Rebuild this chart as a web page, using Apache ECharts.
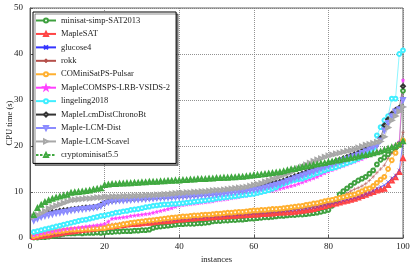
<!DOCTYPE html>
<html><head><meta charset="utf-8">
<script src="https://cdn.jsdelivr.net/npm/echarts@6/dist/echarts.min.js"></script>
<style>html,body{margin:0;padding:0;background:#fff}#c{width:416px;height:267px}</style>
</head><body><div id="c"></div>
<script>
const instances = Array.from({length:100},(_,i)=>i+1);
const xTicks = [0,20,40,60,80,100];
const yTicks = [0,10,20,30,40,50];
const names = ['minisat-simp-SAT2013','MapleSAT','glucose4','rokk','COMiniSatPS-Pulsar','MapleCOMSPS-LRB-VSIDS-2','lingeling2018','MapleLcmDistChronoBt','Maple-LCM-Dist','Maple-LCM-Scavel','cryptominisat5.5'];

const minisat = [0.1,0.1,0.2,0.2,0.3,0.4,0.5,0.7,0.9,1.0, 1.0,1.0,1.1,1.0,1.1,1.1,1.1,1.2,1.1,1.2, 1.3,1.3,1.4,1.4,1.5,1.5,1.5,1.6,1.6,1.7, 1.7,1.8,2.2,2.4,2.5,2.6,2.7,2.8,2.9,3.0, 3.0,3.1,3.1,3.1,3.2,3.2,3.3,3.4,3.6,3.7, 3.7,3.8,3.8,3.9,3.9,4.0,4.0,4.1,4.2,4.2, 4.3,4.4,4.5,4.5,4.6,4.7,4.8,4.8,4.9,5.0, 5.0,5.1,5.1,5.2,5.3,5.4,5.5,5.7,5.9,6.1, 7.0,8.2,9.5,10.2,10.8,11.4,12.0,12.5,12.9,13.3, 14.0,14.7,16.0,17.0,17.5,18.2,19.0,19.6,20.5,32.0];
const mapleSAT = [0.2,0.3,0.4,0.5,0.6,0.8,0.9,1.0,1.2,1.3, 1.4,1.5,1.6,1.7,1.8,1.9,2.0,2.1,2.2,2.3, 2.4,2.5,2.6,2.7,2.8,2.9,3.0,3.0,3.1,3.2, 3.3,3.3,3.4,3.5,3.6,3.6,3.7,3.8,3.9,4.0, 4.0,4.1,4.2,4.2,4.3,4.3,4.4,4.5,4.5,4.6, 4.6,4.7,4.7,4.8,4.8,4.9,4.9,5.0,5.0,5.1, 5.1,5.2,5.2,5.3,5.3,5.4,5.5,5.5,5.6,5.6, 5.7,5.8,5.9,6.0,6.1,6.3,6.5,6.7,6.9,7.1, 7.3,7.5,7.7,7.9,8.1,8.3,8.5,8.8,9.1,9.4, 9.7,10.0,10.3,10.5,10.7,11.5,12.5,13.2,14.3,17.3];
const glucose4 = [0.3,0.4,0.6,0.7,0.9,1.0,1.1,1.3,1.4,1.5, 1.6,1.7,1.8,1.9,2.0,2.1,2.2,2.3,2.4,2.5, 2.6,2.7,2.8,2.9,3.0,3.1,3.2,3.3,3.3,3.4, 3.5,3.6,3.7,3.8,3.8,3.9,4.0,4.1,4.1,4.2, 4.3,4.3,4.4,4.5,4.5,4.6,4.7,4.7,4.8,4.9, 4.9,5.0,5.0,5.1,5.2,5.2,5.3,5.3,5.4,5.5, 5.5,5.6,5.6,5.7,5.8,5.8,5.9,6.0,6.0,6.1, 6.2,6.3,6.4,6.5,6.6,6.7,6.8,7.0,7.2,7.4, 7.6,7.8,8.0,8.2,8.4,8.6,8.8,9.0,9.2,9.5, 9.8,10.2,10.8,11.1,11.5,12.2,13.0,13.6,14.7,20.9];
const rokk = [0.2,0.3,0.5,0.6,0.7,0.9,1.0,1.1,1.3,1.4, 1.5,1.6,1.7,1.8,1.9,2.0,2.1,2.2,2.3,2.4, 2.5,2.6,2.7,2.8,2.9,3.0,3.1,3.2,3.3,3.4, 3.5,3.5,3.6,3.7,3.8,3.8,3.9,4.0,4.1,4.1, 4.2,4.3,4.3,4.4,4.5,4.5,4.6,4.6,4.7,4.8, 4.8,4.9,4.9,5.0,5.0,5.1,5.1,5.2,5.2,5.3, 5.3,5.4,5.5,5.5,5.6,5.7,5.8,5.9,6.0,6.1, 6.2,6.3,6.4,6.5,6.6,6.8,7.0,7.2,7.4,7.6, 7.9,8.3,8.7,9.2,9.7,10.2,10.6,10.9,11.3,11.8, 12.5,13.3,14.2,15.0,15.8,17.3,18.4,19.3,20.2,23.0];
const comini = [0.4,0.6,0.8,1.0,1.1,1.3,1.4,1.5,1.6,1.7, 1.8,1.8,1.9,1.9,2.0,2.0,2.1,2.1,2.2,2.2, 2.4,2.5,2.7,2.8,3.0,3.1,3.3,3.4,3.5,3.6, 3.7,3.8,3.9,4.0,4.1,4.2,4.3,4.4,4.5,4.6, 4.7,4.7,4.8,4.9,4.9,5.0,5.1,5.1,5.2,5.3, 5.3,5.4,5.5,5.5,5.6,5.7,5.7,5.8,5.9,6.0, 6.0,6.1,6.1,6.2,6.3,6.3,6.4,6.5,6.6,6.7, 6.8,6.9,7.0,7.2,7.3,7.5,7.6,7.8,8.0,8.2, 8.3,8.5,8.7,8.9,9.1,9.3,9.5,9.8,10.2,10.6, 10.8,11.3,12.0,12.7,13.3,15.0,16.9,18.5,20.2,21.2];
const comsps = [0.6,0.8,1.0,1.1,1.3,1.4,1.6,1.7,1.9,2.0, 2.1,2.2,2.3,2.4,2.5,2.6,2.7,2.8,2.9,3.1, 3.6,4.2,4.3,4.4,4.5,4.6,4.8,4.9,5.0,5.1, 5.2,5.3,5.5,5.7,5.9,6.1,6.3,6.5,6.8,7.1, 7.2,7.3,7.4,7.5,7.6,7.7,7.8,7.9,8.0,8.2, 8.3,8.4,8.5,8.7,8.8,8.9,9.1,9.2,9.4,9.6, 9.7,9.9,10.0,10.2,10.3,10.5,10.7,10.9,11.1,11.3, 11.5,11.8,12.1,12.4,12.7,13.0,13.3,13.7,14.1,14.5, 14.8,15.1,15.4,15.7,16.0,16.3,16.6,16.9,17.2,17.6, 18.0,18.3,18.6,18.9,19.2,19.4,19.8,20.2,20.9,34.3];
const lingeling = [1.3,1.5,1.7,1.9,2.1,2.3,2.5,2.7,2.9,3.1, 3.3,3.5,3.7,3.9,4.0,4.2,4.4,4.6,4.8,4.9, 5.1,5.3,5.5,5.6,5.8,5.9,6.1,6.2,6.3,6.5, 6.7,6.8,7.0,7.1,7.2,7.3,7.3,7.4,7.4,7.5, 7.6,7.7,7.8,7.9,8.0,8.1,8.2,8.3,8.4,8.6, 8.7,8.8,8.9,9.0,9.1,9.2,9.3,9.4,9.5,9.6, 9.8,10.0,10.2,10.4,10.7,11.0,11.5,11.8,12.1,12.4, 12.6,12.8,12.9,13.2,13.5,13.8,14.1,14.4,14.7,15.0, 15.2,15.4,15.7,16.0,16.3,16.6,16.9,17.3,17.7,18.0, 18.4,19.5,22.3,24.1,25.6,26.5,30.3,30.3,40.0,40.8];
const chronoBt = [4.2,4.6,4.9,5.2,5.4,5.6,5.7,5.9,6.0,6.1, 6.2,6.3,6.4,6.5,6.6,6.6,6.7,6.8,7.2,7.6, 8.0,8.1,8.2,8.3,8.4,8.4,8.5,8.5,8.6,8.6, 8.7,8.7,8.8,8.8,8.9,8.9,9.0,9.0,9.1,9.1, 9.2,9.2,9.3,9.3,9.4,9.5,9.5,9.6,9.7,9.8, 9.9,10.0,10.1,10.2,10.3,10.4,10.5,10.6,10.7,10.9, 11.0,11.2,11.4,11.6,11.8,12.0,12.2,12.5,12.8,13.1, 13.4,13.7,14.0,14.3,14.6,14.9,15.2,15.5,15.8,16.1, 16.4,16.7,17.0,17.3,17.6,17.9,18.2,18.5,18.9,19.3, 19.7,20.1,20.6,21.7,24.5,25.8,27.0,27.8,28.3,33.0];
const lcmDist = [3.8,4.2,4.6,4.8,5.0,5.2,5.4,5.5,5.7,5.8, 6.0,6.1,6.2,6.3,6.4,6.5,6.6,6.7,7.0,7.5, 7.8,8.0,8.1,8.2,8.2,8.3,8.3,8.4,8.4,8.5, 8.5,8.6,8.6,8.7,8.7,8.8,8.8,8.9,8.9,9.0, 9.0,9.1,9.1,9.2,9.2,9.3,9.3,9.4,9.5,9.5, 9.6,9.7,9.8,9.9,10.0,10.1,10.2,10.3,10.4,10.5, 10.6,10.8,11.0,11.2,11.4,11.6,11.8,12.1,12.4,12.7, 13.0,13.3,13.6,13.9,14.2,14.5,14.8,15.1,15.4,15.7, 16.0,16.3,16.6,16.9,17.2,17.5,17.8,18.1,18.5,18.9, 19.3,19.7,20.1,21.2,23.4,25.0,26.5,27.5,28.0,30.0];
const scavel = [4.6,5.0,5.4,5.8,6.4,6.7,7.0,7.3,7.6,7.9, 8.2,8.3,8.4,8.5,8.6,8.6,8.7,8.8,8.8,8.9, 8.9,9.0,9.0,9.0,9.1,9.1,9.1,9.2,9.2,9.2, 9.3,9.3,9.3,9.4,9.4,9.5,9.5,9.6,9.7,9.8, 9.8,9.9,9.9,10.0,10.0,10.1,10.1,10.2,10.3,10.4, 10.4,10.5,10.6,10.7,10.8,10.9,11.0,11.1,11.3,11.5, 11.7,11.9,12.2,12.5,12.8,13.1,13.4,13.7,14.0,14.3, 14.7,15.1,15.5,15.9,16.3,16.7,17.0,17.3,17.6,17.9, 18.1,18.3,18.5,18.7,18.9,19.1,19.3,19.6,19.9,20.2, 20.4,20.6,20.8,21.0,22.0,24.0,25.6,26.5,27.5,28.5];
const crypto = [5.0,6.5,7.2,7.8,8.2,8.5,8.8,9.0,9.2,9.4, 9.8,9.9,10.0,10.1,10.2,10.3,10.5,10.7,10.8,11.5, 11.6,11.7,11.7,11.8,11.8,11.9,11.9,12.0,12.0,12.1, 12.1,12.2,12.2,12.2,12.3,12.3,12.4,12.4,12.5,12.5, 12.6,12.6,12.7,12.7,12.8,12.8,12.8,12.9,12.9,13.0, 13.0,13.1,13.1,13.2,13.2,13.3,13.3,13.4,13.5,13.6, 13.7,13.8,13.9,14.0,14.1,14.2,14.3,14.5,14.7,14.9, 15.0,15.2,15.4,15.6,15.7,15.9,16.0,16.2,16.3,16.5, 16.6,16.8,16.9,17.1,17.2,17.4,17.5,17.7,17.9,18.0, 18.2,18.4,18.6,18.8,19.1,19.4,19.7,20.0,20.3,21.0];

const values = [minisat,mapleSAT,glucose4,rokk,comini,comsps,lingeling,chronoBt,lcmDist,scavel,crypto];
const colors = ['#3fa03f','#ff4545','#3535ff','#b5504b','#ffb030','#ff40ff','#40eeff','#333333','#8c8cff','#a8a8a8','#3fa83f'];
const X = 'path://M0,0L10,10M10,0L0,10';
const PLUS = 'path://M5,0L5,10M0,5L10,5';
const STAR = 'path://M5,0L6.2,3.6L10,3.6L7,5.9L8.1,9.5L5,7.3L1.9,9.5L3,5.9L0,3.6L3.8,3.6Z';
const symbols = ['emptyCircle','emptyTriangle',X,PLUS,'emptyCircle',STAR,'emptyCircle','emptyDiamond','emptyTriangle','emptyTriangle','emptyTriangle'];
const rot = [0,0,0,0,0,0,0,0,180,-90,0];
const FONT = 'Liberation Serif';

const series = names.map((n,i)=>({
  name:n, type:'line', data: instances.map((x,j)=>[x,values[i][j]]),
  symbol:symbols[i], symbolSize:3.8, symbolRotate:rot[i], showAllSymbol:true,
  lineStyle:{color:colors[i], width:0.6, type: i===10?[2.5,1.5]:'solid'},
  itemStyle:{color:colors[i], borderColor:colors[i], borderWidth:0.5},
  emphasis:{disabled:true}, animation:false
}));

const chart = echarts.init(document.getElementById('c'),null,{renderer:'canvas'});
chart.setOption({
  animation:false,
  backgroundColor:'#fff',
  grid:{left:30,right:13,top:8,bottom:29,containLabel:false,outerBoundsMode:'none',show:true,borderColor:'#666',borderWidth:1},
  legend:{orient:'vertical',left:33,top:12,padding:[4,6,4,2],itemGap:4.44,itemWidth:20,itemHeight:5,
    backgroundColor:'#fff',borderColor:'#000',borderWidth:1,
    shadowColor:'rgba(0,0,0,0.45)',shadowOffsetX:2,shadowOffsetY:2,shadowBlur:0,
    textStyle:{fontFamily:FONT,fontSize:8.5,color:'#222',lineHeight:8},
    data:names},
  xAxis:{type:'value',min:0,max:100,interval:20,
    name:'instances',nameLocation:'middle',nameGap:17,nameMoveOverlap:false,
    nameTextStyle:{fontFamily:FONT,fontSize:8.5,color:'#222'},
    axisLine:{lineStyle:{color:'#555'}},
    axisTick:{inside:true,length:3,lineStyle:{color:'#555'}},
    axisLabel:{fontFamily:FONT,fontSize:9,color:'#222',margin:4,formatter:v=>xTicks.includes(v)?String(v):''},
    splitLine:{show:true,lineStyle:{color:'#777',type:[1,1],width:0.8}}},
  yAxis:{type:'value',min:0,max:50,interval:10,
    name:'CPU time (s)',nameLocation:'middle',nameGap:16,nameMoveOverlap:false,
    nameTextStyle:{fontFamily:FONT,fontSize:8.5,color:'#222'},
    axisLine:{show:true,lineStyle:{color:'#555'}},
    axisTick:{show:true,inside:true,length:3,lineStyle:{color:'#555'}},
    axisLabel:{fontFamily:FONT,fontSize:9,color:'#222',margin:7,formatter:v=>yTicks.includes(v)?String(v):''},
    splitLine:{show:true,lineStyle:{color:'#777',type:[1,1],width:0.8}}},
  series:series
});
</script></body></html>
